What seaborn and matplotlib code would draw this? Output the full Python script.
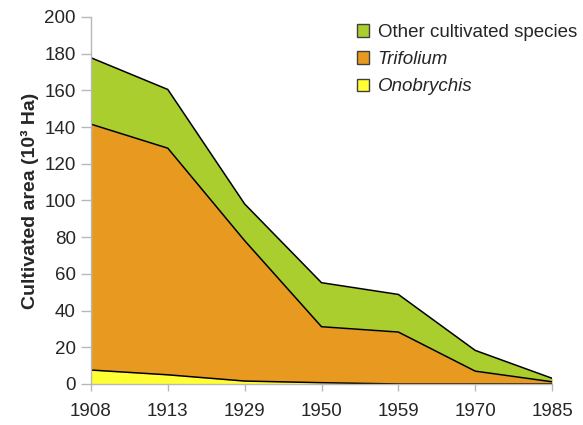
# stacked area chart of cultivated forage area by year
import numpy as np
import pandas as pd
import seaborn as sns
import matplotlib.pyplot as plt

# values (10^3 Ha)
years = ["1908", "1913", "1929", "1950", "1959", "1970", "1985"]
onobrychis = [7.6, 5.0, 1.6, 0.7, 0.0, 0.0, 0.0]
trifolium = [134.0, 123.5, 76.5, 30.5, 28.3, 7.0, 1.2]
other = [36.2, 32.0, 20.0, 24.0, 20.5, 11.3, 1.9]

colors = {"Onobrychis": "#FFFF33", "Trifolium": "#E89A20", "Other cultivated species": "#AACE2E"}

sns.set_style("white")
plt.rcParams["font.family"] = ["Liberation Sans", "DejaVu Sans"]

fig = plt.figure(figsize=(5.83, 4.25), dpi=100)
ax = fig.add_axes([0.156, 0.0965, 0.791, 0.8635])

x = np.arange(len(years))
ax.stackplot(x, onobrychis, trifolium, other,
             colors=[colors["Onobrychis"], colors["Trifolium"], colors["Other cultivated species"]],
             linewidth=0)

# black outlines on the top of each layer
df = pd.DataFrame({"x": x, "Onobrychis": onobrychis, "Trifolium": trifolium, "Other": other})
df["c1"] = df["Onobrychis"]
df["c2"] = df["c1"] + df["Trifolium"]
df["c3"] = df["c2"] + df["Other"]
for col in ["c1", "c2", "c3"]:
    sns.lineplot(data=df, x="x", y=col, color="black", linewidth=1.1, ax=ax)

ax.set_xlim(0, len(years) - 1)
ax.set_ylim(0, 200)
ax.set_yticks(range(0, 201, 20))
ax.set_xticks(x)
ax.set_xticklabels(years)
ax.set_xlabel("")
ax.set_ylabel("Cultivated area (10³ Ha)", fontsize=14, fontweight="bold", labelpad=4)

for s in ["top", "right"]:
    ax.spines[s].set_visible(False)
for s in ["left", "bottom"]:
    ax.spines[s].set_color("#B8B8B8")
    ax.spines[s].set_linewidth(1)
ax.tick_params(axis="both", which="major", labelsize=13.5, width=1,
               color="#B8B8B8", direction="out", left=True, bottom=True)
ax.tick_params(axis="y", length=7, pad=4)
ax.tick_params(axis="x", length=5, pad=9)

handles = [plt.Rectangle((0, 0), 1, 1, facecolor=colors[k], edgecolor="#404040", linewidth=1)
           for k in ["Other cultivated species", "Trifolium", "Onobrychis"]]
leg = ax.legend(handles, ["Other cultivated species", "Trifolium", "Onobrychis"],
                loc="upper right", bbox_to_anchor=(1.078, 1.012), frameon=False,
                fontsize=13.5, handlelength=0.65, handleheight=0.65, handletextpad=0.45,
                labelspacing=0.55, borderaxespad=0.2)
for t in leg.get_texts()[1:]:
    t.set_fontstyle("italic")

fig.savefig("out.png", dpi=100)
